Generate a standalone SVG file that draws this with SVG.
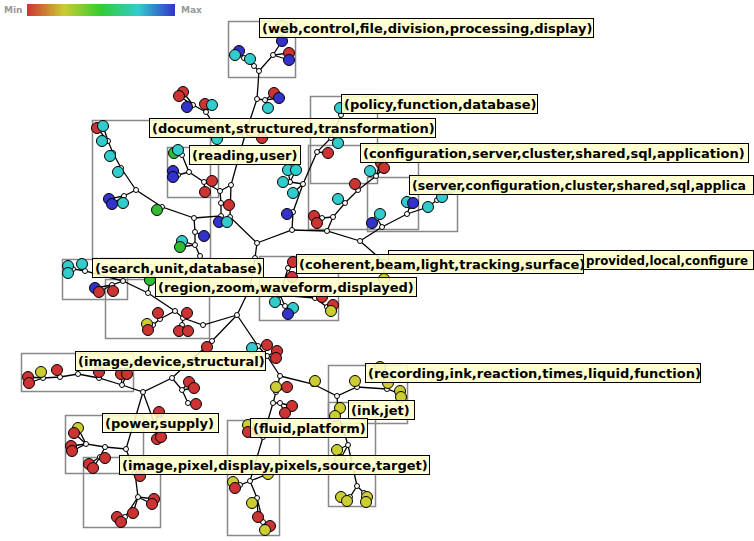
<svg xmlns="http://www.w3.org/2000/svg" width="754" height="541" viewBox="0 0 754 541">
<defs>
<linearGradient id="grad" x1="0" y1="0" x2="1" y2="0">
<stop offset="0" stop-color="#cc3333"/><stop offset="0.25" stop-color="#cccc33"/><stop offset="0.5" stop-color="#33cc33"/><stop offset="0.75" stop-color="#33cccc"/><stop offset="1" stop-color="#3333cc"/>
</linearGradient>
<style>
.box{fill:none;stroke:#888;stroke-width:1.5}
.e{fill:none;stroke:#000;stroke-width:1.3}
.n{fill:#fff;stroke:#000;stroke-width:1}
.r,.c,.b,.g,.y{stroke:#000;stroke-width:1}
.r{fill:#cc3333}.c{fill:#33cccc}.b{fill:#3333cc}.g{fill:#33bb33}.y{fill:#cccc33}
.lr{fill:#ffffcc;fill-opacity:0.88;stroke:#000;stroke-width:1}
.lt{font-family:"DejaVu Sans","Verdana",sans-serif;font-weight:bold;font-size:13px;fill:#000}
.leg{font-family:"DejaVu Sans",sans-serif;font-weight:bold;font-size:9px;fill:#999}
</style>
</defs>
<rect width="754" height="541" fill="#fff"/>
<g id="legend">
<text class="leg" x="4" y="13">Min</text>
<rect x="27" y="4" width="148" height="12" fill="url(#grad)"/>
<text class="leg" x="181" y="13">Max</text>
</g>
<g id="cluster-boxes">
<rect class="box" x="228.5" y="21.5" width="67" height="56"/>
<rect class="box" x="310.5" y="96.5" width="67" height="87"/>
<rect class="box" x="308.5" y="145.5" width="110" height="84"/>
<rect class="box" x="367.5" y="177.5" width="90" height="54"/>
<rect class="box" x="92.5" y="120.5" width="118" height="138"/>
<rect class="box" x="167.5" y="147.5" width="51" height="50"/>
<rect class="box" x="62.5" y="259.5" width="65" height="40"/>
<rect class="box" x="105.5" y="279.5" width="104" height="59"/>
<rect class="box" x="259.5" y="256.5" width="79" height="64"/>
<rect class="box" x="21.5" y="353.5" width="112" height="38"/>
<rect class="box" x="65.5" y="415.5" width="78" height="58"/>
<rect class="box" x="83.5" y="457.5" width="77" height="70"/>
<rect class="box" x="227.5" y="420.5" width="52" height="115"/>
<rect class="box" x="328.5" y="365.5" width="79" height="58"/>
<rect class="box" x="328.5" y="402.5" width="47" height="104"/>
</g>
<g id="connectors">
<polyline class="e" points="259,71 273,55 289,53"/><polyline class="e" points="273,55 289,60"/><polyline class="e" points="273,55 282,41"/>
<polyline class="e" points="259,71 254,66 250,59"/><polyline class="e" points="254,66 244,58 239,51"/><polyline class="e" points="244,58 235,55"/>
<polyline class="e" points="259,71 257,99 245,135 231,185 230,217 257,243"/>
<polyline class="e" points="257,99 265,100 274,93"/><polyline class="e" points="265,100 279,98"/><polyline class="e" points="265,100 268,108"/>
<polyline class="e" points="245,135 217,130 206,112 205,104"/><polyline class="e" points="206,112 212,105"/>
<polyline class="e" points="206,112 193,105 183,92"/><polyline class="e" points="193,105 179,96"/><polyline class="e" points="193,105 187,107"/>
<polyline class="e" points="217,130 217,139"/><polyline class="e" points="245,135 262,138"/>
<polyline class="e" points="231,185 220,191 221,203 221,216 194,218"/>
<polyline class="e" points="220,191 204,182 212,181"/><polyline class="e" points="204,182 205,192"/>
<polyline class="e" points="204,182 189,172 182,155 174,153"/><polyline class="e" points="182,155 178,150"/>
<polyline class="e" points="189,172 178,175 173,171"/><polyline class="e" points="178,175 173,177"/>
<polyline class="e" points="221,216 219,222"/><polyline class="e" points="230,217 227,222"/>
<polyline class="e" points="194,218 162,207 157,210"/>
<polyline class="e" points="162,207 136,190 124,196 109,199"/><polyline class="e" points="124,196 112,204"/><polyline class="e" points="124,196 123,203"/>
<polyline class="e" points="136,190 121,168 113,153 108,141 97,128"/><polyline class="e" points="108,141 103,126"/><polyline class="e" points="108,141 102,141"/>
<polyline class="e" points="121,168 118,172"/><polyline class="e" points="113,153 110,156"/>
<polyline class="e" points="194,218 195,232 204,236"/><polyline class="e" points="195,232 195,245 182,241"/><polyline class="e" points="195,245 180,247"/><polyline class="e" points="195,245 200,256"/>
<polyline class="e" points="257,243 292,230 327,231 360,241"/>
<polyline class="e" points="292,230 293,212 303,184 317,152 331,138 341,115 340,108"/>
<polyline class="e" points="293,212 287,214"/><polyline class="e" points="303,184 293,193"/>
<polyline class="e" points="303,184 290,182 283,182"/><polyline class="e" points="290,182 288,170"/><polyline class="e" points="290,182 296,170"/>
<polyline class="e" points="317,152 328,153"/><polyline class="e" points="331,138 338,143"/>
<polyline class="e" points="327,231 333,217 345,203 358,190 376,176 384,168"/>
<polyline class="e" points="333,217 322,218 314,216"/><polyline class="e" points="322,218 317,223"/>
<polyline class="e" points="345,203 338,199"/><polyline class="e" points="358,190 355,184"/>
<polyline class="e" points="376,176 370,171"/><polyline class="e" points="376,176 381,163"/>
<polyline class="e" points="360,241 382,227 407,214 428,207 437,200 442,197"/>
<polyline class="e" points="382,227 377,218 372,223"/><polyline class="e" points="377,218 380,214"/>
<polyline class="e" points="407,214 410,206 407,202"/><polyline class="e" points="410,206 413,203"/><polyline class="e" points="437,200 450,188"/>
<polyline class="e" points="360,241 384,262 384,279"/>
<polyline class="e" points="257,243 255,258 250,288 237,315"/>
<polyline class="e" points="250,288 280,295 285,306 275,302"/><polyline class="e" points="285,306 293,308"/><polyline class="e" points="285,306 288,314"/>
<polyline class="e" points="280,295 288,268 293,262"/><polyline class="e" points="288,268 292,277"/>
<polyline class="e" points="280,295 315,298 327,307 333,305"/><polyline class="e" points="315,298 322,297"/><polyline class="e" points="327,307 331,311"/>
<polyline class="e" points="237,315 203,325 183,318 175,311 160,319 153,325 147,324"/>
<polyline class="e" points="153,325 148,330"/><polyline class="e" points="160,319 158,313"/><polyline class="e" points="183,318 187,313"/>
<polyline class="e" points="183,318 182,325 179,331"/><polyline class="e" points="182,325 188,331"/>
<polyline class="e" points="175,311 148,293 150,280"/>
<polyline class="e" points="148,293 123,281 112,285 95,288"/><polyline class="e" points="112,285 99,292"/><polyline class="e" points="112,285 113,291"/>
<polyline class="e" points="123,281 85,271 82,264"/><polyline class="e" points="85,271 73,269 68,266"/><polyline class="e" points="73,269 68,273"/>
<polyline class="e" points="237,315 212,341 172,378 143,392 122,385 99,378 78,374 60,377 43,378 28,377"/>
<polyline class="e" points="212,341 207,347"/><polyline class="e" points="122,385 121,374"/><polyline class="e" points="122,385 127,374"/>
<polyline class="e" points="99,378 99,372"/><polyline class="e" points="60,377 57,370"/><polyline class="e" points="43,378 41,372"/><polyline class="e" points="43,378 29,383"/>
<polyline class="e" points="172,378 182,390 189,382"/><polyline class="e" points="182,390 194,388"/><polyline class="e" points="182,390 188,403 196,404"/>
<polyline class="e" points="143,392 155,425 159,412"/><polyline class="e" points="155,425 157,439"/><polyline class="e" points="155,425 161,437"/>
<polyline class="e" points="143,392 126,449 105,447 86,444 78,428"/><polyline class="e" points="86,444 74,433"/><polyline class="e" points="86,444 71,446"/><polyline class="e" points="86,444 72,451"/>
<polyline class="e" points="105,447 100,457 105,458"/><polyline class="e" points="100,457 89,464"/><polyline class="e" points="100,457 93,468"/>
<polyline class="e" points="126,449 135,473 138,497 154,499"/><polyline class="e" points="135,473 140,476"/><polyline class="e" points="138,497 152,504"/>
<polyline class="e" points="138,497 133,513"/><polyline class="e" points="138,497 125,517 117,517"/><polyline class="e" points="125,517 121,522"/>
<polyline class="e" points="237,315 258,346 267,356 280,376"/>
<polyline class="e" points="258,346 252,348"/><polyline class="e" points="258,346 267,345"/><polyline class="e" points="267,356 277,351"/><polyline class="e" points="267,356 276,358"/>
<polyline class="e" points="280,376 313,384 337,396 357,387 387,389 398,393 400,391"/>
<polyline class="e" points="398,393 401,397"/><polyline class="e" points="387,389 388,383"/><polyline class="e" points="357,387 355,381"/><polyline class="e" points="387,389 380,367"/>
<polyline class="e" points="337,396 338,413 340,408"/><polyline class="e" points="338,413 335,416"/>
<polyline class="e" points="338,413 348,445 357,486 350,497 341,497"/><polyline class="e" points="350,497 347,501"/>
<polyline class="e" points="357,486 364,493 367,497"/><polyline class="e" points="364,493 366,502"/>
<polyline class="e" points="348,445 337,450"/><polyline class="e" points="348,445 340,460"/>
<polyline class="e" points="280,376 276,392 273,403 263,437 250,481 240,485 233,482"/>
<polyline class="e" points="276,392 276,387"/><polyline class="e" points="276,392 287,387"/>
<polyline class="e" points="273,403 280,403 292,406"/><polyline class="e" points="280,403 285,413"/>
<polyline class="e" points="263,437 248,432"/><polyline class="e" points="263,437 248,425"/>
<polyline class="e" points="240,485 235,488"/><polyline class="e" points="250,481 257,498 252,503"/><polyline class="e" points="257,498 258,517"/>
<polyline class="e" points="257,498 263,522 270,526"/><polyline class="e" points="263,522 265,530"/><polyline class="e" points="250,481 268,474"/>
</g>
<g id="inner-nodes">
<circle class="n" r="2.5" cx="259" cy="71"/><circle class="n" r="2.5" cx="273" cy="55"/><circle class="n" r="2.5" cx="254" cy="66"/><circle class="n" r="2.5" cx="244" cy="58"/>
<circle class="n" r="2.5" cx="257" cy="99"/><circle class="n" r="2.5" cx="265" cy="100"/><circle class="n" r="2.5" cx="245" cy="135"/><circle class="n" r="2.5" cx="217" cy="130"/>
<circle class="n" r="2.5" cx="206" cy="112"/><circle class="n" r="2.5" cx="193" cy="105"/><circle class="n" r="2.5" cx="231" cy="185"/><circle class="n" r="2.5" cx="230" cy="217"/>
<circle class="n" r="2.5" cx="220" cy="191"/><circle class="n" r="2.5" cx="221" cy="203"/><circle class="n" r="2.5" cx="221" cy="216"/><circle class="n" r="2.5" cx="204" cy="182"/>
<circle class="n" r="2.5" cx="189" cy="172"/><circle class="n" r="2.5" cx="182" cy="155"/><circle class="n" r="2.5" cx="178" cy="175"/><circle class="n" r="2.5" cx="194" cy="218"/>
<circle class="n" r="2.5" cx="162" cy="207"/><circle class="n" r="2.5" cx="136" cy="190"/><circle class="n" r="2.5" cx="124" cy="196"/><circle class="n" r="2.5" cx="121" cy="168"/>
<circle class="n" r="2.5" cx="113" cy="153"/><circle class="n" r="2.5" cx="108" cy="141"/><circle class="n" r="2.5" cx="195" cy="232"/><circle class="n" r="2.5" cx="195" cy="245"/><circle class="n" r="2.5" cx="200" cy="256"/>
<circle class="n" r="2.5" cx="257" cy="243"/><circle class="n" r="2.5" cx="292" cy="230"/><circle class="n" r="2.5" cx="327" cy="231"/><circle class="n" r="2.5" cx="360" cy="241"/>
<circle class="n" r="2.5" cx="293" cy="212"/><circle class="n" r="2.5" cx="303" cy="184"/><circle class="n" r="2.5" cx="317" cy="152"/><circle class="n" r="2.5" cx="331" cy="138"/><circle class="n" r="2.5" cx="341" cy="115"/><circle class="n" r="2.5" cx="290" cy="182"/>
<circle class="n" r="2.5" cx="333" cy="217"/><circle class="n" r="2.5" cx="345" cy="203"/><circle class="n" r="2.5" cx="358" cy="190"/><circle class="n" r="2.5" cx="376" cy="176"/><circle class="n" r="2.5" cx="322" cy="218"/>
<circle class="n" r="2.5" cx="382" cy="227"/><circle class="n" r="2.5" cx="407" cy="214"/><circle class="n" r="2.5" cx="437" cy="200"/><circle class="n" r="2.5" cx="377" cy="218"/><circle class="n" r="2.5" cx="410" cy="206"/>
<circle class="n" r="2.5" cx="384" cy="262"/>
<circle class="n" r="2.5" cx="255" cy="258"/><circle class="n" r="2.5" cx="250" cy="288"/><circle class="n" r="2.5" cx="237" cy="315"/><circle class="n" r="2.5" cx="280" cy="295"/><circle class="n" r="2.5" cx="285" cy="306"/>
<circle class="n" r="2.5" cx="288" cy="268"/><circle class="n" r="2.5" cx="315" cy="298"/><circle class="n" r="2.5" cx="327" cy="307"/>
<circle class="n" r="2.5" cx="203" cy="325"/><circle class="n" r="2.5" cx="183" cy="318"/><circle class="n" r="2.5" cx="175" cy="311"/><circle class="n" r="2.5" cx="160" cy="319"/><circle class="n" r="2.5" cx="153" cy="325"/><circle class="n" r="2.5" cx="182" cy="325"/>
<circle class="n" r="2.5" cx="148" cy="293"/><circle class="n" r="2.5" cx="123" cy="281"/><circle class="n" r="2.5" cx="112" cy="285"/><circle class="n" r="2.5" cx="85" cy="271"/><circle class="n" r="2.5" cx="73" cy="269"/>
<circle class="n" r="2.5" cx="212" cy="341"/><circle class="n" r="2.5" cx="172" cy="378"/><circle class="n" r="2.5" cx="143" cy="392"/><circle class="n" r="2.5" cx="122" cy="385"/><circle class="n" r="2.5" cx="99" cy="378"/>
<circle class="n" r="2.5" cx="78" cy="374"/><circle class="n" r="2.5" cx="60" cy="377"/><circle class="n" r="2.5" cx="43" cy="378"/><circle class="n" r="2.5" cx="182" cy="390"/><circle class="n" r="2.5" cx="188" cy="403"/>
<circle class="n" r="2.5" cx="155" cy="425"/><circle class="n" r="2.5" cx="126" cy="449"/><circle class="n" r="2.5" cx="105" cy="447"/><circle class="n" r="2.5" cx="86" cy="444"/><circle class="n" r="2.5" cx="100" cy="457"/>
<circle class="n" r="2.5" cx="135" cy="473"/><circle class="n" r="2.5" cx="138" cy="497"/><circle class="n" r="2.5" cx="125" cy="517"/>
<circle class="n" r="2.5" cx="258" cy="346"/><circle class="n" r="2.5" cx="267" cy="356"/><circle class="n" r="2.5" cx="280" cy="376"/><circle class="n" r="2.5" cx="313" cy="384"/><circle class="n" r="2.5" cx="337" cy="396"/>
<circle class="n" r="2.5" cx="357" cy="387"/><circle class="n" r="2.5" cx="387" cy="389"/><circle class="n" r="2.5" cx="398" cy="393"/><circle class="n" r="2.5" cx="338" cy="413"/><circle class="n" r="2.5" cx="348" cy="445"/>
<circle class="n" r="2.5" cx="357" cy="486"/><circle class="n" r="2.5" cx="350" cy="497"/><circle class="n" r="2.5" cx="364" cy="493"/>
<circle class="n" r="2.5" cx="276" cy="392"/><circle class="n" r="2.5" cx="273" cy="403"/><circle class="n" r="2.5" cx="280" cy="403"/><circle class="n" r="2.5" cx="263" cy="437"/>
<circle class="n" r="2.5" cx="250" cy="481"/><circle class="n" r="2.5" cx="240" cy="485"/><circle class="n" r="2.5" cx="257" cy="498"/><circle class="n" r="2.5" cx="263" cy="522"/>
</g>
<g id="leaves">
<circle class="y" r="5.5" cx="282" cy="26"/><circle class="b" r="5.5" cx="282" cy="41"/><circle class="r" r="5.5" cx="289" cy="53"/><circle class="b" r="5.5" cx="289" cy="60"/>
<circle class="c" r="5.5" cx="250" cy="59"/><circle class="b" r="5.5" cx="239" cy="51"/><circle class="c" r="5.5" cx="235" cy="55"/>
<circle class="r" r="5.5" cx="274" cy="93"/><circle class="b" r="5.5" cx="279" cy="98"/><circle class="c" r="5.5" cx="268" cy="108"/>
<circle class="r" r="5.5" cx="205" cy="104"/><circle class="c" r="5.5" cx="212" cy="105"/><circle class="r" r="5.5" cx="183" cy="92"/><circle class="r" r="5.5" cx="179" cy="96"/><circle class="b" r="5.5" cx="187" cy="107"/>
<circle class="c" r="5.5" cx="217" cy="139"/><circle class="r" r="5.5" cx="262" cy="138"/>
<circle class="r" r="5.5" cx="212" cy="181"/><circle class="r" r="5.5" cx="205" cy="192"/><circle class="g" r="5.5" cx="174" cy="153"/><circle class="c" r="5.5" cx="178" cy="150"/>
<circle class="b" r="5.5" cx="173" cy="171"/><circle class="b" r="5.5" cx="173" cy="177"/>
<circle class="b" r="5.5" cx="219" cy="222"/><circle class="c" r="5.5" cx="227" cy="222"/><circle class="r" r="5.5" cx="229" cy="205"/>
<circle class="g" r="5.5" cx="157" cy="210"/><circle class="b" r="5.5" cx="109" cy="199"/><circle class="b" r="5.5" cx="112" cy="204"/><circle class="c" r="5.5" cx="123" cy="203"/>
<circle class="r" r="5.5" cx="97" cy="128"/><circle class="c" r="5.5" cx="103" cy="126"/><circle class="c" r="5.5" cx="102" cy="141"/><circle class="c" r="5.5" cx="118" cy="172"/><circle class="c" r="5.5" cx="110" cy="156"/>
<circle class="b" r="5.5" cx="204" cy="236"/><circle class="c" r="5.5" cx="182" cy="241"/><circle class="g" r="5.5" cx="180" cy="247"/>
<circle class="b" r="5.5" cx="287" cy="214"/><circle class="c" r="5.5" cx="293" cy="193"/><circle class="c" r="5.5" cx="283" cy="182"/><circle class="c" r="5.5" cx="288" cy="170"/><circle class="c" r="5.5" cx="296" cy="170"/>
<circle class="r" r="5.5" cx="328" cy="153"/><circle class="c" r="5.5" cx="338" cy="143"/><circle class="c" r="5.5" cx="340" cy="108"/>
<circle class="r" r="5.5" cx="314" cy="216"/><circle class="r" r="5.5" cx="317" cy="223"/><circle class="c" r="5.5" cx="338" cy="199"/><circle class="r" r="5.5" cx="355" cy="184"/>
<circle class="c" r="5.5" cx="370" cy="171"/><circle class="r" r="5.5" cx="381" cy="163"/><circle class="r" r="5.5" cx="384" cy="168"/>
<circle class="b" r="5.5" cx="372" cy="223"/><circle class="c" r="5.5" cx="380" cy="214"/><circle class="c" r="5.5" cx="407" cy="202"/><circle class="b" r="5.5" cx="413" cy="203"/>
<circle class="c" r="5.5" cx="428" cy="207"/><circle class="c" r="5.5" cx="442" cy="197"/><circle class="c" r="5.5" cx="450" cy="188"/>
<circle class="y" r="5.5" cx="384" cy="279"/>
<circle class="r" r="5.5" cx="293" cy="262"/><circle class="r" r="5.5" cx="292" cy="277"/><circle class="c" r="5.5" cx="275" cy="302"/><circle class="c" r="5.5" cx="293" cy="308"/><circle class="b" r="5.5" cx="288" cy="314"/>
<circle class="r" r="5.5" cx="322" cy="297"/><circle class="r" r="5.5" cx="333" cy="305"/><circle class="y" r="5.5" cx="331" cy="311"/>
<circle class="r" r="5.5" cx="158" cy="313"/><circle class="r" r="5.5" cx="187" cy="313"/><circle class="r" r="5.5" cx="179" cy="331"/><circle class="r" r="5.5" cx="188" cy="331"/>
<circle class="y" r="5.5" cx="147" cy="324"/><circle class="r" r="5.5" cx="148" cy="330"/><circle class="g" r="5.5" cx="150" cy="280"/>
<circle class="b" r="5.5" cx="95" cy="288"/><circle class="r" r="5.5" cx="99" cy="292"/><circle class="r" r="5.5" cx="113" cy="291"/>
<circle class="c" r="5.5" cx="82" cy="264"/><circle class="c" r="5.5" cx="68" cy="266"/><circle class="c" r="5.5" cx="68" cy="273"/>
<circle class="r" r="5.5" cx="207" cy="347"/><circle class="r" r="5.5" cx="121" cy="374"/><circle class="r" r="5.5" cx="127" cy="374"/><circle class="r" r="5.5" cx="99" cy="372"/>
<circle class="r" r="5.5" cx="57" cy="370"/><circle class="y" r="5.5" cx="41" cy="372"/><circle class="r" r="5.5" cx="28" cy="377"/><circle class="r" r="5.5" cx="29" cy="383"/>
<circle class="r" r="5.5" cx="189" cy="382"/><circle class="r" r="5.5" cx="194" cy="388"/><circle class="r" r="5.5" cx="196" cy="404"/>
<circle class="r" r="5.5" cx="159" cy="412"/><circle class="r" r="5.5" cx="157" cy="439"/><circle class="r" r="5.5" cx="161" cy="437"/>
<circle class="y" r="5.5" cx="78" cy="428"/><circle class="r" r="5.5" cx="74" cy="433"/><circle class="r" r="5.5" cx="71" cy="446"/><circle class="r" r="5.5" cx="72" cy="451"/>
<circle class="r" r="5.5" cx="105" cy="458"/><circle class="r" r="5.5" cx="89" cy="464"/><circle class="r" r="5.5" cx="93" cy="468"/>
<circle class="r" r="5.5" cx="140" cy="476"/><circle class="r" r="5.5" cx="154" cy="499"/><circle class="r" r="5.5" cx="152" cy="504"/>
<circle class="r" r="5.5" cx="133" cy="513"/><circle class="r" r="5.5" cx="117" cy="517"/><circle class="r" r="5.5" cx="121" cy="522"/>
<circle class="c" r="5.5" cx="252" cy="348"/><circle class="r" r="5.5" cx="267" cy="345"/><circle class="r" r="5.5" cx="277" cy="351"/><circle class="r" r="5.5" cx="276" cy="358"/>
<circle class="y" r="5.5" cx="315" cy="381"/><circle class="y" r="5.5" cx="355" cy="381"/><circle class="y" r="5.5" cx="388" cy="383"/><circle class="y" r="5.5" cx="400" cy="391"/><circle class="y" r="5.5" cx="401" cy="397"/>
<circle class="y" r="5.5" cx="380" cy="367"/><circle class="y" r="5.5" cx="340" cy="408"/><circle class="y" r="5.5" cx="335" cy="416"/><circle class="y" r="5.5" cx="337" cy="450"/>
<circle class="y" r="5.5" cx="341" cy="497"/><circle class="y" r="5.5" cx="347" cy="501"/><circle class="y" r="5.5" cx="367" cy="497"/><circle class="y" r="5.5" cx="366" cy="502"/><circle class="y" r="5.5" cx="340" cy="460"/>
<circle class="y" r="5.5" cx="276" cy="387"/><circle class="r" r="5.5" cx="287" cy="387"/><circle class="r" r="5.5" cx="292" cy="406"/><circle class="r" r="5.5" cx="285" cy="413"/>
<circle class="y" r="5.5" cx="248" cy="425"/><circle class="r" r="5.5" cx="248" cy="432"/><circle class="y" r="5.5" cx="233" cy="482"/><circle class="r" r="5.5" cx="235" cy="488"/>
<circle class="y" r="5.5" cx="252" cy="503"/><circle class="r" r="5.5" cx="258" cy="517"/><circle class="r" r="5.5" cx="270" cy="526"/><circle class="y" r="5.5" cx="265" cy="530"/><circle class="y" r="5.5" cx="268" cy="474"/>
</g>
<g id="labels">
<g id="label-web"><rect class="lr" x="259.5" y="18.5" width="334" height="19"/><text class="lt" x="262" y="33">(web,control,file,division,processing,display)</text></g>
<g id="label-policy"><rect class="lr" x="341.5" y="94.5" width="196" height="19"/><text class="lt" x="344" y="109">(policy,function,database)</text></g>
<g id="label-document"><rect class="lr" x="149.5" y="118.5" width="286" height="19"/><text class="lt" x="152" y="133">(document,structured,transformation)</text></g>
<g id="label-reading"><rect class="lr" x="189.5" y="145.5" width="111" height="19"/><text class="lt" x="192" y="160">(reading,user)</text></g>
<g id="label-configuration"><rect class="lr" x="360.5" y="143.5" width="388" height="19"/><text class="lt" x="363" y="158">(configuration,server,cluster,shared,sql,application)</text></g>
<g id="label-server"><rect class="lr" x="409.5" y="175.5" width="344" height="19"/><text class="lt" x="412" y="190" textLength="334" lengthAdjust="spacingAndGlyphs">(server,configuration,cluster,shared,sql,applica</text></g>
<g id="label-provided"><rect class="lr" x="388.5" y="250.5" width="365" height="19"/><text class="lt" x="586" y="265" textLength="162" lengthAdjust="spacingAndGlyphs">provided,local,configure</text></g>
<g id="label-coherent"><rect class="lr" x="296.5" y="254.5" width="287" height="19"/><text class="lt" x="299" y="269">(coherent,beam,light,tracking,surface)</text></g>
<g id="label-search"><rect class="lr" x="92.5" y="258.5" width="171" height="19"/><text class="lt" x="95" y="273">(search,unit,database)</text></g>
<g id="label-region"><rect class="lr" x="155.5" y="277.5" width="261" height="19"/><text class="lt" x="158" y="292">(region,zoom,waveform,displayed)</text></g>
<g id="label-image-device"><rect class="lr" x="75.5" y="351.5" width="190" height="19"/><text class="lt" x="78" y="366">(image,device,structural)</text></g>
<g id="label-recording"><rect class="lr" x="365.5" y="363.5" width="335" height="19"/><text class="lt" x="368" y="378">(recording,ink,reaction,times,liquid,function)</text></g>
<g id="label-ink-jet"><rect class="lr" x="348.5" y="400.5" width="66" height="19"/><text class="lt" x="351" y="415">(ink,jet)</text></g>
<g id="label-fluid"><rect class="lr" x="250.5" y="418.5" width="117" height="19"/><text class="lt" x="253" y="433">(fluid,platform)</text></g>
<g id="label-power"><rect class="lr" x="102.5" y="413.5" width="116" height="19"/><text class="lt" x="105" y="428">(power,supply)</text></g>
<g id="label-image-pixel"><rect class="lr" x="119.5" y="455.5" width="310" height="19"/><text class="lt" x="122" y="470">(image,pixel,display,pixels,source,target)</text></g>
</g>
</svg>
